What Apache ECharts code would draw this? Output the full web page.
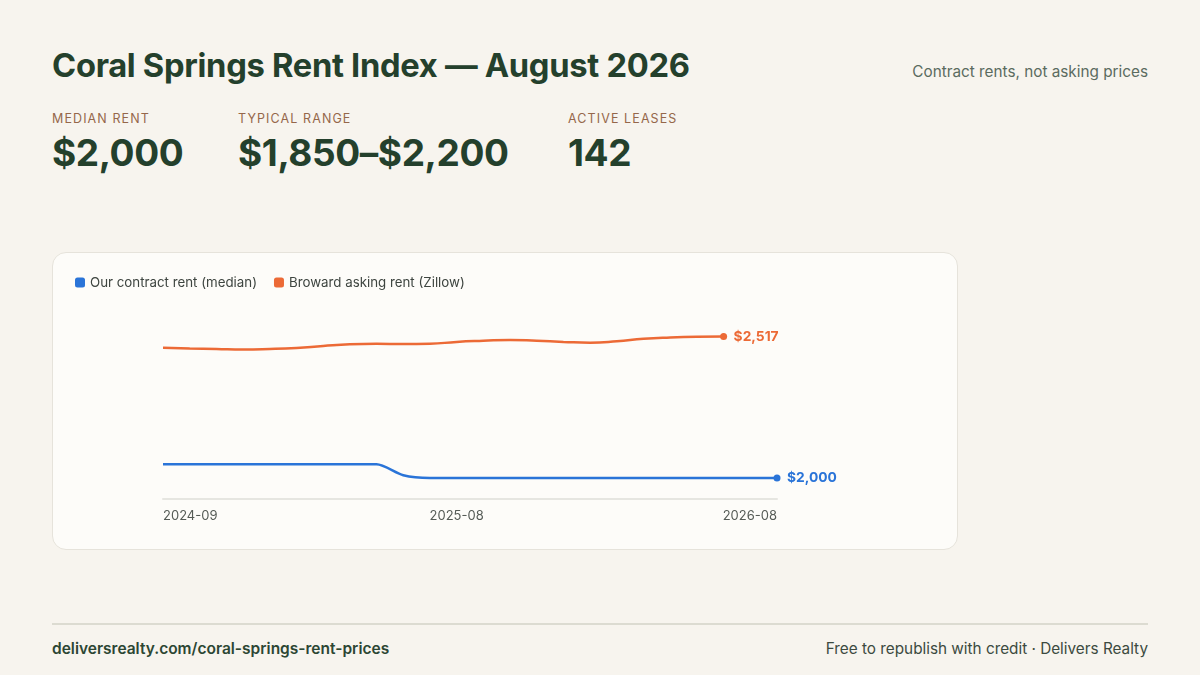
<!DOCTYPE html>
<html>
<head>
<meta charset="utf-8">
<script src="https://cdn.jsdelivr.net/npm/echarts@6/dist/echarts.min.js"></script>
<style>
  html, body { margin: 0; padding: 0; }
  body {
    width: 1200px; height: 675px; position: relative; overflow: hidden;
    background: #f7f4ee; font-family: Inter, "Noto Sans", sans-serif; color: #24402c;
  }
  h1 { position: absolute; left: 52px; top: 45px; margin: 0; font-size: 32.7px; font-weight: 700; letter-spacing: -0.3px; }
  .note { position: absolute; right: 52px; top: 62px; font-size: 15.3px; color: #5b6b5f; }
  .kpi { position: absolute; top: 111px; }
  .kpi .lbl { font-size: 12.5px; letter-spacing: 1.1px; color: #95674a; }
  .kpi .val { font-size: 37px; font-weight: 700; margin-top: 4px; letter-spacing: -0.4px; }
  .card {
    position: absolute; left: 52px; top: 252px; width: 904px; height: 296px;
    background: #fdfcf9; border: 1px solid #e6e3db; border-radius: 14px;
  }
  #chart { position: absolute; left: 0; top: 0; width: 904px; height: 296px; }
  .rule { position: absolute; left: 52px; top: 623px; width: 1096px; height: 2px; background: #dcdbd1; }
  .foot { position: absolute; top: 639px; font-size: 15.5px; }
  .foot.l { left: 52px; font-weight: 600; color: #2c4633; }
  .foot.r { right: 52px; color: #3c4a40; font-size: 15.3px; }
</style>
</head>
<body>
<h1>Coral Springs Rent Index — August 2026</h1>
<div class="note">Contract rents, not asking prices</div>
<div class="kpi" style="left:52px"><div class="lbl">MEDIAN RENT</div><div class="val">$2,000</div></div>
<div class="kpi" style="left:238px"><div class="lbl">TYPICAL RANGE</div><div class="val">$1,850–$2,200</div></div>
<div class="kpi" style="left:568px"><div class="lbl">ACTIVE LEASES</div><div class="val">142</div></div>
<div class="card"><div id="chart"></div></div>
<div class="rule"></div>
<div class="foot l">deliversrealty.com/coral-springs-rent-prices</div>
<div class="foot r">Free to republish with credit · Delivers Realty</div>

<script>
// Mois de l'axe
const months = [
  '2024-09', '2024-10', '2024-11', '2024-12', '2025-01', '2025-02', '2025-03', '2025-04',
  '2025-05', '2025-06', '2025-07', '2025-08', '2025-09', '2025-10', '2025-11', '2025-12',
  '2026-01', '2026-02', '2026-03', '2026-04', '2026-05', '2026-06', '2026-07', '2026-08'
];
// Loyers contractuels (médiane)
const contractRent = [
  2050, 2050, 2050, 2050, 2050, 2050, 2050, 2050,
  2050, 2010, 2000, 2000, 2000, 2000, 2000, 2000,
  2000, 2000, 2000, 2000, 2000, 2000, 2000, 2000
];
// Loyers demandés Broward (Zillow), s'arrête en 2026-06
const askingRent = [
  2476, 2473, 2471, 2469, 2471, 2475, 2482, 2488,
  2490, 2489, 2490, 2497, 2501, 2504, 2501, 2497,
  2494, 2499, 2508, 2513, 2516, 2517
];
const shownLabels = ['2024-09', '2025-08', '2026-08'];

const BLUE = '#2a74d8';
const ORANGE = '#ec6a36';

const fmt = v => '$' + v.toLocaleString('en-US');

// Point visible seulement sur la dernière valeur
function lastDot(data) {
  const last = data.length - 1;
  return function (val, params) {
    return params.dataIndex === last ? 7 : 0;
  };
}

var chart = echarts.init(document.getElementById('chart'));
chart.setOption({
  animation: false,
  textStyle: { fontFamily: 'Inter, "Noto Sans", sans-serif' },
  legend: {
    left: 17, top: 18,
    itemWidth: 10, itemHeight: 10, itemGap: 17,
    icon: 'roundRect',
    textStyle: { fontSize: 13.3, color: '#3e4540' },
    data: ['Our contract rent (median)', 'Broward asking rent (Zillow)']
  },
  grid: { left: 110, right: 180, top: 47, bottom: 50, containLabel: false },
  xAxis: {
    type: 'category',
    data: months,
    boundaryGap: false,
    axisLine: { lineStyle: { color: '#e6e6e1', width: 2 } },
    axisTick: { show: false },
    axisLabel: {
      interval: function (i, v) { return shownLabels.indexOf(v) !== -1; },
      color: '#555b56', fontSize: 13, margin: 11,
      alignMinLabel: 'left', alignMaxLabel: 'right'
    },
    splitLine: { show: false }
  },
  yAxis: {
    type: 'value',
    min: 1923, max: 2650,
    show: false,
    splitLine: { show: false }
  },
  series: [
    {
      name: 'Our contract rent (median)',
      type: 'line',
      data: contractRent,
      smooth: 0.25,
      color: BLUE,
      lineStyle: { width: 2.5, color: BLUE },
      symbol: 'circle',
      symbolSize: lastDot(contractRent),
      itemStyle: { color: BLUE },
      endLabel: {
        show: true, distance: 10,
        formatter: p => fmt(p.value),
        color: BLUE, fontWeight: 'bold', fontSize: 13.8
      }
    },
    {
      name: 'Broward asking rent (Zillow)',
      type: 'line',
      data: askingRent,
      smooth: 0.5,
      color: ORANGE,
      lineStyle: { width: 2.5, color: ORANGE },
      symbol: 'circle',
      symbolSize: lastDot(askingRent),
      itemStyle: { color: ORANGE },
      endLabel: {
        show: true, distance: 10,
        formatter: p => fmt(p.value),
        color: ORANGE, fontWeight: 'bold', fontSize: 13.8
      }
    }
  ]
});
</script>
</body>
</html>
